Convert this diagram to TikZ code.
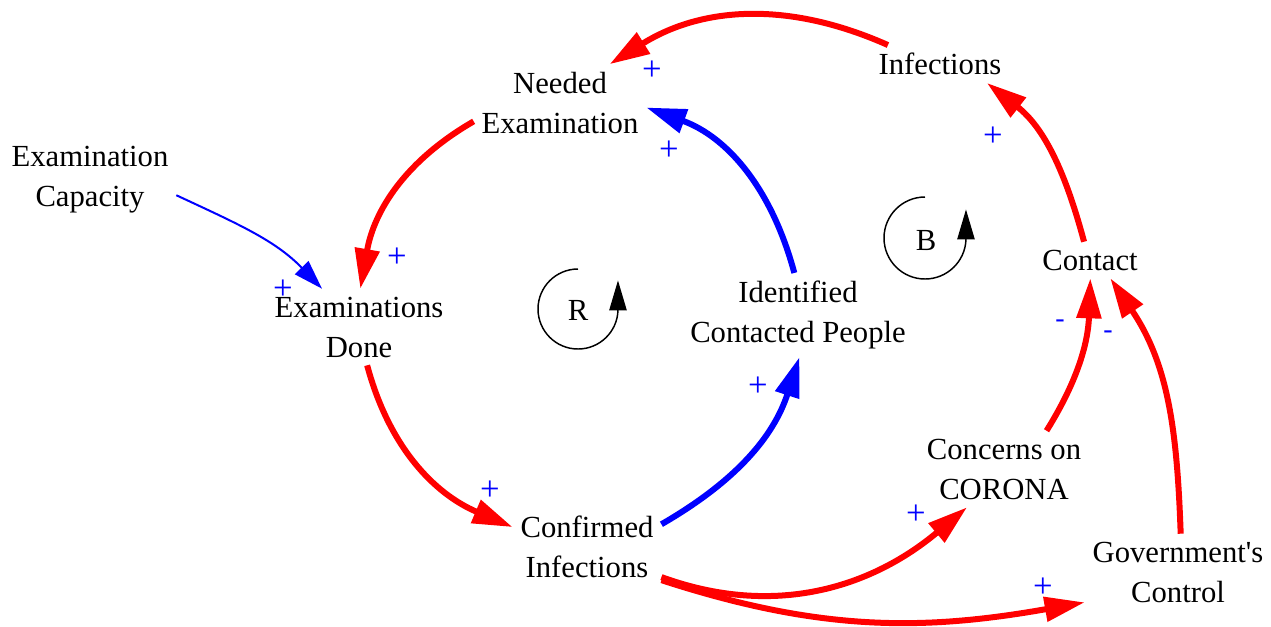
\documentclass[tikz,border=0pt]{standalone}
\usepackage{fontspec}
\setmainfont{Liberation Serif}
\usetikzlibrary{arrows.meta}

\begin{document}
\begin{tikzpicture}[x=0.75pt, y=-0.75pt,
  var/.style={align=center, inner sep=3pt, outer sep=3pt, font=\fontsize{23}{30}\selectfont},
  segno/.style={text=blue, inner sep=0pt, font=\fontsize{26}{30}\selectfont},
  meno/.style={text=blue, inner sep=0pt, font=\fontsize{21}{30}\selectfont},
  rosso/.style={draw=red, line width=4.5pt, -{Triangle[length=30pt,width=18pt]}},
  blu/.style={draw=blue, line width=4.5pt, -{Triangle[length=30pt,width=18pt]}},
  blusottile/.style={draw=blue, line width=1.5pt, -{Triangle[length=22pt,width=14pt]}},
  ciclo/.style={line width=1.1pt, -{Triangle[length=22.5pt,width=13pt]}}]

\useasboundingbox (0,0) rectangle (1271,626);

% variabili
\node[var] (ned) at (560,103) {Needed\\Examination};
\node[var] (inf) at (940,64) {Infections};
\node[var] (cap) at (90,180) {Examination\\Capacity};
\node[var] (exd) at (359,327) {Examinations\\Done};
\node[var] (idc) at (798,315) {Identified\\Contacted People};
\node[var] (con) at (1090,260) {Contact};
\node[var] (cor) at (1004,469) {Concerns on\\CORONA};
\node[var] (cfi) at (587,547) {Confirmed\\Infections};
\node[var] (gov) at (1178,572) {Government\textquotesingle s\\Control};

% cicli
\node[var] (lr) at (578,310) {R};
\node[var] (lb) at (926,240) {B};
\draw[ciclo] (lr.center) ++(0,-41) arc[start angle=-90, end angle=-358, radius=40] -- ++(0,-30);
\draw[ciclo] (lb.center) ++(-1,-43) arc[start angle=-90, end angle=-358, radius=41] -- ++(0,-30);

% collegamenti
\draw[rosso] (inf.160) to[out=156,in=32] (ned.38);
\draw[rosso] (ned.192) to[out=210,in=80] (exd.88);
\draw[rosso] (exd.282) to[out=285,in=157] (cfi.165);
\draw[blu] (cfi.17) to[out=30,in=252] (idc.272);
\draw[blu] (idc.95) to[out=105,in=340] (ned.-3);
\draw[blusottile] (cap.-10) to[out=-25,in=134] (exd.134);
\draw[rosso] (con.108) to[out=105,in=322] (inf.-22);
\draw[rosso] (cor.42) to[out=58,in=268] (con.271);
\draw[rosso] (gov.86) to[out=92,in=304] (con.-42);
\draw[rosso] (cfi.-22) to[out=-20,in=220] (cor.226);
\draw[rosso] (cfi.-24) to[out=-18,in=190] (gov.198);

% polarita
\node[segno] (p1) at (652,71) {+};
\node[segno] (p2) at (669,151) {+};
\node[segno] (p3) at (993,137) {+};
\node[segno] (p4) at (397,258) {+};
\node[segno] (p5) at (283,290) {+};
\node[segno] (p6) at (758,387) {+};
\node[segno] (p7) at (490,491) {+};
\node[segno] (p8) at (916,515) {+};
\node[segno] (p9) at (1043,588) {+};
\node[meno] (m1) at (1060,324) {-};
\node[meno] (m2) at (1108,335) {-};

\end{tikzpicture}
\end{document}
